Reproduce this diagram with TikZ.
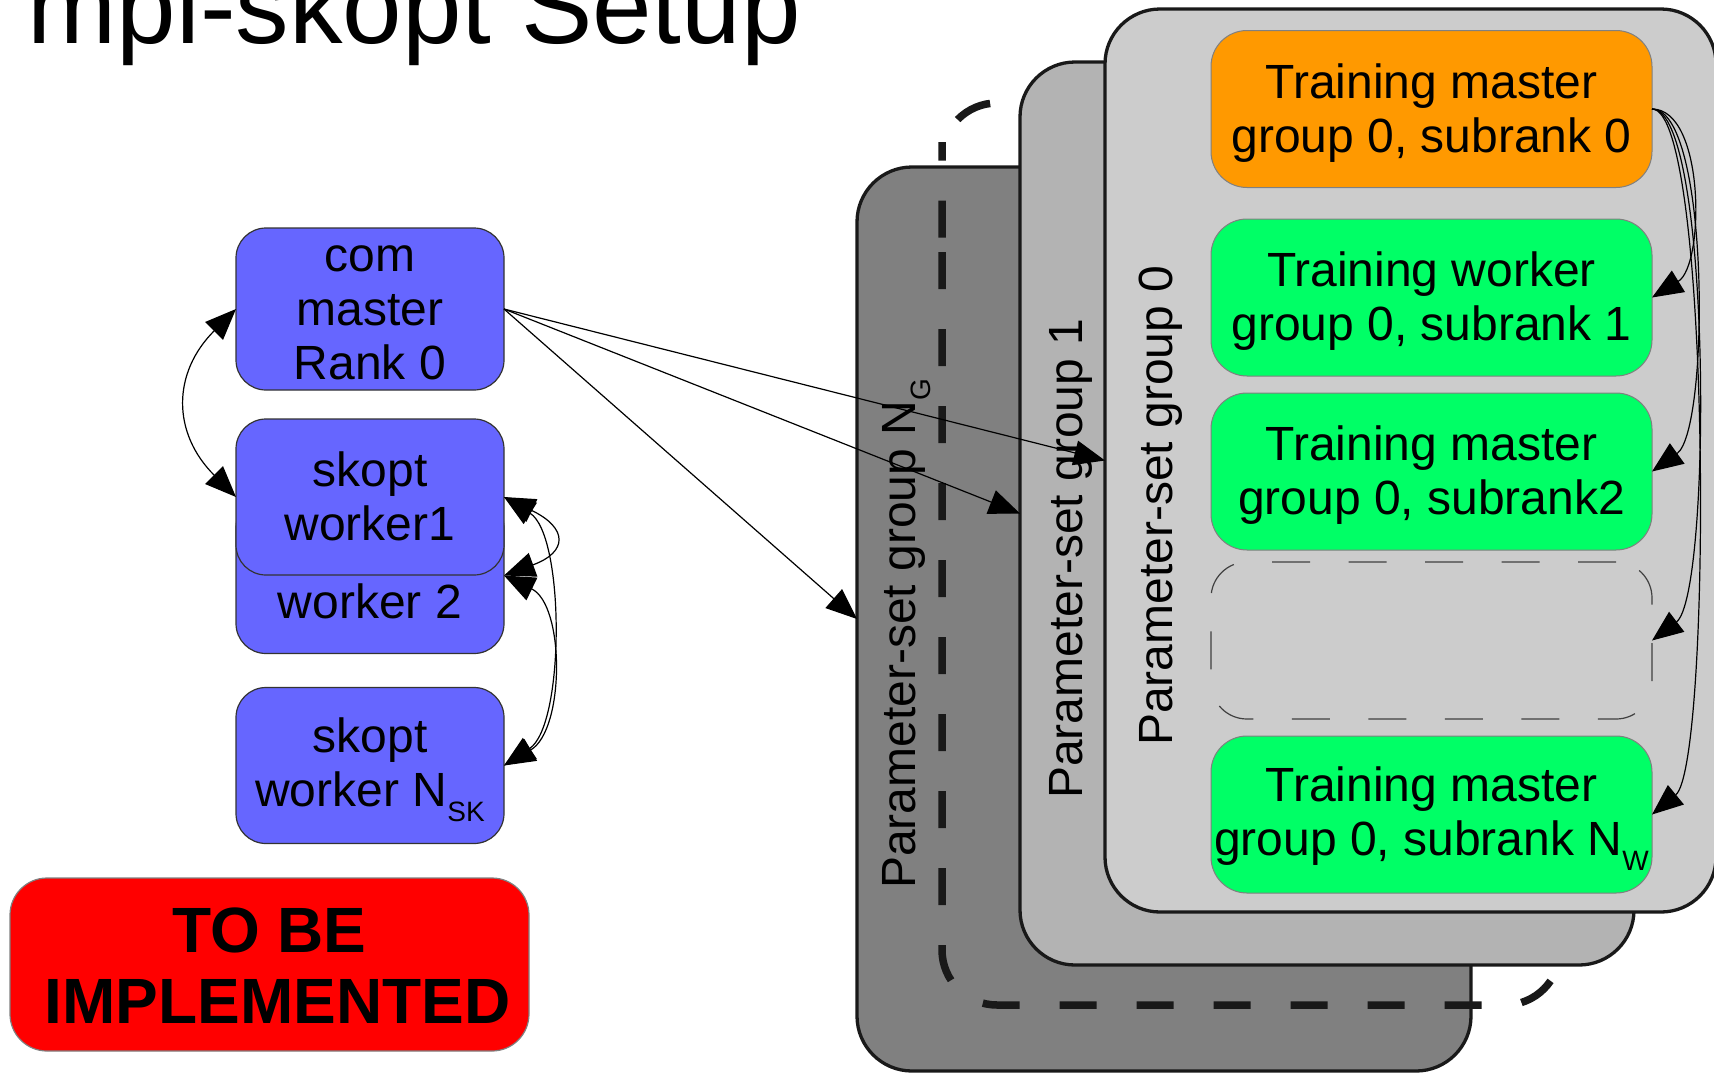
\documentclass[tikz,border=0pt]{standalone}
\usepackage{fontspec}
\setmainfont{Liberation Sans}
\usetikzlibrary{arrows.meta}
\definecolor{cblue}{HTML}{6666FF}
\definecolor{corange}{HTML}{FF9900}
\definecolor{cgreen}{HTML}{00FF66}
\definecolor{cred}{HTML}{FF0000}
\definecolor{gdark}{HTML}{808080}
\definecolor{gmid}{HTML}{B3B3B3}
\definecolor{glight}{HTML}{CCCCCC}
\newcommand\lsA{\rule[-11pt]{0pt}{54pt}}
\newcommand\lsB{\rule[-12.5pt]{0pt}{71pt}}
\newcommand\subx[1]{\raisebox{-15pt}{\fontsize{28}{28}\selectfont #1}}
\begin{document}
\begin{tikzpicture}[x=1pt,y=-1pt,
  txt/.style={font=\fontsize{48}{54}\selectfont, align=center, inner sep=0pt, outer sep=0pt},
  bluenode/.style={txt, draw=black!80, line width=1.2pt, fill=cblue, rounded corners=30pt, minimum width=268pt, minimum height=156pt},
  trainnode/.style={txt, draw=gray, line width=1pt, rounded corners=36pt, minimum width=441pt, minimum height=157pt},
  groupbox/.style={draw=black!90, line width=3.3pt, rounded corners=55pt, inner sep=0pt, outer sep=0pt},
  vlabel/.style={font=\fontsize{48}{54}\selectfont, rotate=90, anchor=base west, inner sep=0pt},
  conn/.style={line width=1.2pt, -{Triangle[length=31pt,width=25pt]}},
  conntwo/.style={line width=1.2pt, {Triangle[length=31pt,width=25pt]}-{Triangle[length=31pt,width=25pt]}}
]
\useasboundingbox (0,0) rectangle (1714,1072);

% title
\node[anchor=base west, inner sep=0pt, font=\fontsize{107}{120}\selectfont] (title) at (27.5,43.3) {mpi-skopt Setup};

% left column
\node[bluenode] (com) at (370,309) {\lsA com\\\lsA master\\\lsA Rank 0};
\node[bluenode] (w2) at (370,575.5) {};
\node[txt, anchor=base] (w2t) at (370,618.5) {worker 2};
\node[bluenode] (w1) at (370,497) {\lsA skopt\\\lsA worker1};
\node[bluenode] (nsk) at (370,765.5) {\lsA skopt\\\lsA worker N\subx{SK}};

\node[txt, fill=cred, draw=gray, line width=1.2pt, rounded corners=37pt,
      minimum width=519pt, minimum height=173pt,
      font=\bfseries\fontsize{64}{71}\selectfont] (tbi) at (269.5,964.5)
      {\lsB TO BE\\\lsB\hspace*{16pt}IMPLEMENTED};

% parameter-set groups
\node[groupbox, fill=gdark, minimum width=614pt, minimum height=904pt] (gN) at (1164,619) {};
\node[vlabel] (lN) at (915,889) {Parameter-set group N\subx{G}};
\draw[black!90, line width=7.5pt, dash pattern=on 37pt off 40pt, rounded corners=55pt]
  (942,197) -- (942,1005) -- (1560,1005) -- (1560,103) -- (942,103) -- cycle;
\node[groupbox, fill=gmid, minimum width=614pt, minimum height=903pt] (g1) at (1327,513.5) {};
\node[vlabel] (l1) at (1082,799) {Parameter-set group 1};
\node[groupbox, fill=glight, minimum width=611pt, minimum height=903pt] (g0) at (1410.5,460.5) {};
\node[vlabel] (l0) at (1172,746) {Parameter-set group 0};

\node[trainnode, fill=corange] (tm0) at (1431.5,109) {\lsA Training master\\\lsA group 0, subrank 0};
\node[trainnode, fill=cgreen] (tw1) at (1431.5,297.5) {\lsA Training worker\\\lsA group 0, subrank 1};
\node[trainnode, fill=cgreen] (tw2) at (1431.5,471.5) {\lsA Training master\\\lsA group 0, subrank2};
\node[trainnode, draw=black!75, line width=1.2pt, dash pattern=on 38pt off 38.5pt] (tdash) at (1431.5,640.5) {};
\node[trainnode, fill=cgreen] (tw3) at (1431.5,814.5) {\lsA Training master\\\lsA group 0, subrank N\subx{W}};

% connectors
\draw[conntwo] (com.west) .. controls (172,373) and (172,433) .. (w1.west);
\draw[conntwo] (w1.east) .. controls (568,528) and (568,552) .. (w2.east);
\draw[conntwo] (w1.east) .. controls (565,535) and (565,725) .. (nsk.east);
\draw[conntwo] (w2.east) .. controls (565,605) and (565,730) .. (nsk.east);

\draw[conn] (com.east) -- (g0.west);
\draw[conn] (com.east) -- (g1.west);
\draw[conn] (com.east) -- (gN.west);

\draw[conn] (tm0.east) .. controls (1705,109) and (1705,265) .. (tw1.east);
\draw[conn] (tm0.east) .. controls (1710,109) and (1710,430) .. (tw2.east);
\draw[conn] (tm0.east) .. controls (1712,109) and (1712,595) .. (tdash.east);
\draw[conn] (tm0.east) .. controls (1712,109) and (1712,765) .. (tw3.east);
\end{tikzpicture}
\end{document}
